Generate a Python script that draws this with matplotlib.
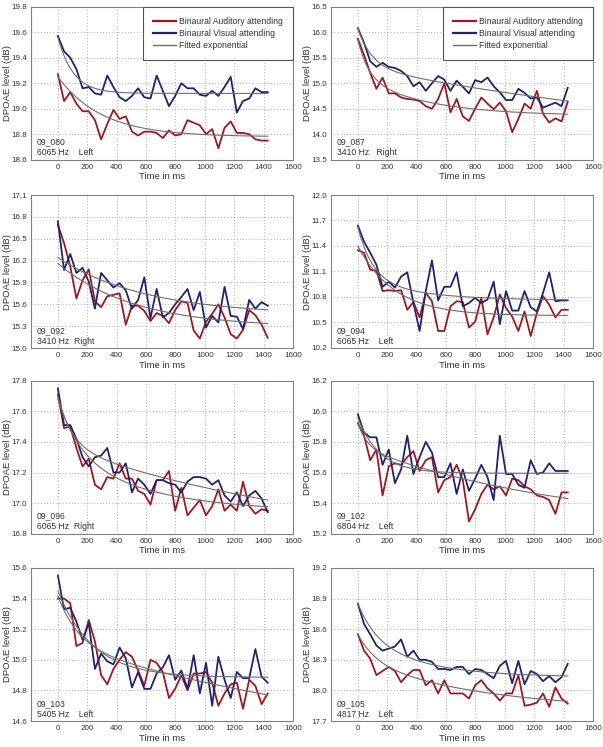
import numpy as np
import matplotlib
matplotlib.use("Agg")
import matplotlib.pyplot as plt

plt.rcParams['font.family'] = ['Liberation Sans', 'DejaVu Sans']

# ---------------- data ----------------
time_ms = [0, 42, 84, 126, 168, 210, 252, 294, 336, 378, 420, 462, 504, 546, 588,
           630, 672, 714, 756, 798, 840, 882, 924, 966, 1008, 1050, 1092, 1134,
           1176, 1218, 1260, 1302, 1344, 1386, 1428]

legend_labels = ["Binaural Auditory attending", "Binaural Visual attending", "Fitted exponential"]

# 09_080, 6065 Hz Left
s080_aud = [19.27, 19.06, 19.13, 19.04, 18.98, 18.98, 18.91, 18.76, 18.88, 18.99,
            18.92, 18.94, 18.82, 18.79, 18.82, 18.82, 18.81, 18.77, 18.83, 18.79,
            18.80, 18.91, 18.89, 18.87, 18.80, 18.84, 18.69, 18.85, 18.90, 18.81,
            18.81, 18.80, 18.76, 18.75, 18.75]
s080_vis = [19.57, 19.45, 19.40, 19.31, 19.16, 19.17, 19.12, 19.11, 19.26, 19.17,
            19.09, 19.06, 19.10, 19.16, 19.09, 19.08, 19.26, 19.14, 19.02, 19.10,
            19.20, 19.16, 19.16, 19.11, 19.10, 19.14, 19.10, 19.17, 19.25, 18.97,
            19.06, 19.08, 19.16, 19.13, 19.13]

# 09_087, 3410 Hz Right
s087_aud = [15.87, 15.55, 15.20, 14.89, 15.11, 14.80, 14.80, 14.72, 14.69, 14.68,
            14.65, 14.55, 14.50, 14.69, 15.00, 14.43, 14.69, 14.35, 14.26, 14.50,
            14.72, 14.60, 14.49, 14.62, 14.45, 14.04, 14.30, 14.60, 14.50, 14.85,
            14.40, 14.23, 14.31, 14.25, 14.64]
s087_vis = [16.08, 15.79, 15.43, 15.32, 15.40, 15.32, 15.30, 15.24, 15.14, 14.94,
            15.02, 14.85, 15.00, 15.14, 15.07, 14.85, 15.05, 14.93, 14.80, 15.06,
            15.02, 15.11, 14.94, 14.82, 14.67, 14.67, 14.89, 14.81, 14.70, 14.72,
            14.52, 14.57, 14.62, 14.55, 14.91]

# 09_092, 3410 Hz Right
s092_aud = [16.69, 16.44, 16.12, 15.68, 15.93, 16.08, 15.64, 15.56, 15.71, 15.73,
            15.75, 15.32, 15.58, 15.58, 15.51, 15.37, 15.48, 15.44, 15.34, 15.52,
            15.64, 15.62, 15.24, 15.13, 15.36, 15.47, 15.60, 15.42, 15.19, 15.13,
            15.25, 15.52, 15.45, 15.32, 15.14]
s092_vis = [16.74, 16.07, 16.29, 16.03, 16.10, 15.91, 15.54, 16.03, 15.93, 15.83,
            15.89, 15.79, 15.54, 15.66, 15.97, 15.41, 15.81, 15.42, 15.48, 15.60,
            15.70, 15.81, 15.52, 15.77, 15.28, 15.44, 15.35, 15.84, 15.44, 15.43,
            15.26, 15.66, 15.54, 15.63, 15.58]

# 09_094, 6065 Hz Left
s094_aud = [11.35, 11.32, 11.12, 11.11, 10.87, 10.88, 10.87, 10.88, 10.65, 10.74,
            10.56, 10.85, 10.75, 10.40, 10.40, 10.69, 10.75, 10.74, 10.44, 10.51,
            10.79, 10.36, 10.56, 10.83, 10.67, 10.57, 10.40, 10.63, 10.34, 10.61,
            10.81, 10.71, 10.56, 10.65, 10.65]
s094_vis = [11.64, 11.45, 11.32, 11.18, 10.92, 10.98, 10.91, 11.04, 11.09, 10.73,
            10.40, 10.87, 11.23, 10.76, 10.92, 10.92, 11.09, 10.69, 10.73, 10.79,
            10.73, 10.77, 10.98, 10.48, 10.87, 10.64, 10.64, 10.87, 10.68, 10.63,
            10.85, 11.09, 10.75, 10.76, 10.76]

# 09_096, 6065 Hz Right
s096_aud = [17.71, 17.49, 17.50, 17.36, 17.24, 17.29, 17.12, 17.09, 17.17, 17.16,
            17.26, 17.16, 17.16, 17.08, 17.06, 16.99, 17.15, 17.15, 17.21, 16.95,
            17.10, 16.92, 16.97, 17.02, 16.92, 16.98, 17.09, 16.95, 16.99, 16.95,
            17.14, 16.98, 16.93, 16.96, 16.95]
s096_vis = [17.75, 17.51, 17.51, 17.42, 17.30, 17.24, 17.30, 17.31, 17.36, 17.20,
            17.20, 17.26, 17.07, 17.16, 17.12, 17.06, 17.15, 17.15, 17.13, 17.12,
            17.07, 17.14, 17.17, 17.17, 17.16, 17.12, 17.15, 17.05, 17.01, 17.07,
            16.98, 17.05, 17.08, 17.03, 16.94]

# 09_102, 6804 Hz Left
s102_aud = [15.92, 15.84, 15.68, 15.75, 15.45, 15.64, 15.66, 15.65, 15.70, 15.74,
            15.61, 15.68, 15.70, 15.47, 15.55, 15.57, 15.65, 15.55, 15.28, 15.36,
            15.46, 15.52, 15.49, 15.51, 15.45, 15.56, 15.55, 15.51, 15.49, 15.45,
            15.44, 15.42, 15.33, 15.47, 15.47]
s102_vis = [15.98, 15.86, 15.83, 15.83, 15.65, 15.75, 15.53, 15.62, 15.84, 15.59,
            15.70, 15.80, 15.73, 15.57, 15.57, 15.66, 15.46, 15.62, 15.48, 15.56,
            15.65, 15.57, 15.42, 15.84, 15.59, 15.59, 15.52, 15.50, 15.68, 15.59,
            15.60, 15.66, 15.61, 15.61, 15.61]

# 09_103, 5405 Hz Left
s103_aud = [15.40, 15.40, 15.37, 15.09, 15.11, 15.26, 15.12, 14.90, 14.84, 14.94,
            15.00, 15.05, 15.02, 14.93, 14.83, 15.00, 14.98, 14.92, 14.75, 14.81,
            14.90, 14.80, 14.91, 14.91, 14.92, 14.85, 14.70, 14.78, 14.84, 14.85,
            14.68, 14.87, 14.83, 14.71, 14.78]
s103_vis = [15.55, 15.33, 15.34, 15.25, 15.13, 15.24, 14.94, 15.04, 14.99, 14.97,
            15.08, 15.01, 14.82, 14.92, 14.81, 14.81, 14.91, 14.95, 15.03, 14.87,
            14.93, 14.81, 15.03, 14.78, 14.98, 14.70, 15.02, 14.87, 14.75, 14.92,
            14.88, 14.88, 15.07, 14.89, 14.85]

# 09_105, 4817 Hz Left
s105_aud = [18.55, 18.39, 18.31, 18.15, 18.19, 18.23, 18.19, 18.08, 18.15, 18.20,
            18.20, 18.05, 18.10, 17.97, 18.10, 17.97, 17.97, 17.97, 17.92, 18.05,
            18.10, 18.02, 17.97, 17.90, 17.97, 17.97, 18.15, 17.85, 17.86, 17.88,
            17.97, 17.84, 18.03, 17.92, 17.87]
s105_vis = [18.85, 18.65, 18.55, 18.44, 18.39, 18.41, 18.43, 18.50, 18.33, 18.39,
            18.30, 18.30, 18.28, 18.21, 18.21, 18.20, 18.23, 18.23, 18.16, 18.21,
            18.20, 18.16, 18.12, 18.24, 18.29, 18.07, 18.29, 18.06, 18.19, 18.16,
            18.09, 18.14, 18.08, 18.13, 18.26]

# Fitted exponential parameters: level = a + b1*exp(-t/tau1) + b2*exp(-t/tau2)
fit080_aud = (18.78, 0.47, 300, 0.0, 1000)
fit080_vis = (19.12, 0.44, 105, 0.0, 1000)
fit087_aud = (14.36, 0.71, 70, 0.78, 450)
fit087_vis = (13.55, 0.76, 95, 1.77, 3000)
fit092_aud = (15.28, 0.88, 520, 0.0, 1000)
fit092_vis = (15.45, 0.79, 600, 0.0, 1000)
fit094_aud = (10.58, 0.82, 250, 0.0, 1000)
fit094_vis = (10.76, 0.60, 100, 0.26, 400)
fit096_aud = (16.94, 0.35, 150, 0.39, 600)
fit096_vis = (16.677, 0.32, 96, 0.70, 2000)
fit102_aud = (15.216, 0.16, 60, 0.553, 1500)
fit102_vis = (15.595, 0.36, 150, 0.0, 1000)
fit103_aud = (14.232, 0.32, 140, 0.866, 3000)
fit103_vis = (14.885, 0.565, 240, 0.0, 1000)
fit105_aud = (17.80, 0.254, 120, 0.496, 850)
fit105_vis = (18.13, 0.30, 120, 0.42, 400)

subject_ids = ["09_080", "09_087", "09_092", "09_094", "09_096", "09_102", "09_103", "09_105"]
freq_side = ["6065 Hz    Left", "3410 Hz   Right", "3410 Hz  Right", "6065 Hz    Left",
             "6065 Hz  Right", "6804 Hz    Left", "5405 Hz    Left", "4817 Hz    Left"]
y_ticks_080 = [18.6, 18.8, 19.0, 19.2, 19.4, 19.6, 19.8]
y_ticks_087 = [13.5, 14.0, 14.5, 15.0, 15.5, 16.0, 16.5]
y_ticks_092 = [15.0, 15.3, 15.6, 15.9, 16.2, 16.5, 16.8, 17.1]
y_ticks_094 = [10.2, 10.5, 10.8, 11.1, 11.4, 11.7, 12.0]
y_ticks_096 = [16.8, 17.0, 17.2, 17.4, 17.6, 17.8]
y_ticks_102 = [15.2, 15.4, 15.6, 15.8, 16.0, 16.2]
y_ticks_103 = [14.6, 14.8, 15.0, 15.2, 15.4, 15.6]
y_ticks_105 = [17.7, 18.0, 18.3, 18.6, 18.9, 19.2]
x_ticks = [0, 200, 400, 600, 800, 1000, 1200, 1400, 1600]

panels = [
    (s080_aud, s080_vis, fit080_aud, fit080_vis, y_ticks_080),
    (s087_aud, s087_vis, fit087_aud, fit087_vis, y_ticks_087),
    (s092_aud, s092_vis, fit092_aud, fit092_vis, y_ticks_092),
    (s094_aud, s094_vis, fit094_aud, fit094_vis, y_ticks_094),
    (s096_aud, s096_vis, fit096_aud, fit096_vis, y_ticks_096),
    (s102_aud, s102_vis, fit102_aud, fit102_vis, y_ticks_102),
    (s103_aud, s103_vis, fit103_aud, fit103_vis, y_ticks_103),
    (s105_aud, s105_vis, fit105_aud, fit105_vis, y_ticks_105),
]

# ---------------- style ----------------
RED = '#9e1820'
BLUE = '#22226e'
GREY = '#6e6e6e'
TXT = '#333333'
FS = 6.2

W, H = 603, 747
fig = plt.figure(figsize=(W / 100, H / 100), dpi=100)

col_left = [31 / W, 331 / W]
col_w = 262 / W
row_top = [6.7, 195.0, 380.7, 568.0]
row_h = 153.0


def fit_curve(p, t):
    a, b1, t1, b2, t2 = p
    return a + b1 * np.exp(-t / t1) + b2 * np.exp(-t / t2)


t_dense = np.linspace(0, time_ms[-1], 300)

for k, (aud, vis, fa, fv, yt) in enumerate(panels):
    r, c = divmod(k, 2)
    bottom = 1 - (row_top[r] + row_h) / H
    ax = fig.add_axes([col_left[c], bottom, col_w, row_h / H])

    l1, = ax.plot(time_ms, aud, color=RED, lw=1.3, zorder=3)
    l2, = ax.plot(time_ms, vis, color=BLUE, lw=1.3, zorder=3)
    l3, = ax.plot(t_dense, fit_curve(fa, t_dense), color=GREY, lw=0.8, zorder=4)
    ax.plot(t_dense, fit_curve(fv, t_dense), color=GREY, lw=0.8, zorder=4)

    ax.set_xlim(-183, 1600)
    ax.set_ylim(yt[0], yt[-1])
    ax.set_xticks(x_ticks)
    ax.set_yticks(yt)
    ax.set_yticklabels([f"{v:.1f}" for v in yt])
    ax.grid(True, color='#a8a8a8', linestyle=(0, (1, 2.2)), linewidth=0.7, zorder=0)
    ax.tick_params(length=0, labelsize=FS - 0.4, colors=TXT, pad=3)
    for s in ax.spines.values():
        s.set_color('#808080')
        s.set_linewidth(0.8)

    ax.set_xlabel("Time in ms", fontsize=FS + 0.6, color=TXT, labelpad=1)
    ax.set_ylabel("DPOAE level (dB)", fontsize=FS + 0.6, color=TXT)
    ax.yaxis.set_label_coords(-0.071, 0.5)

    ax.text(0.022, 0.115, subject_ids[k], transform=ax.transAxes, fontsize=FS,
            color=TXT, va='center', ha='left')
    ax.text(0.022, 0.045, freq_side[k], transform=ax.transAxes, fontsize=FS,
            color=TXT, va='center', ha='left')

    if k < 2:
        leg = ax.legend([l1, l2, l3], legend_labels, loc='upper right',
                        fontsize=FS, frameon=True, fancybox=False,
                        borderaxespad=0, borderpad=1.15, labelspacing=0.38,
                        handlelength=2.6, handletextpad=0.4)
        leg.get_frame().set_edgecolor('#555555')
        leg.get_frame().set_linewidth(0.8)
        leg.get_frame().set_alpha(1)
        for t in leg.get_texts():
            t.set_color(TXT)
        for h in leg.get_lines():
            h.set_linewidth(1.6 if h.get_color() != GREY else 1.0)

fig.savefig("out.png", dpi=100)
